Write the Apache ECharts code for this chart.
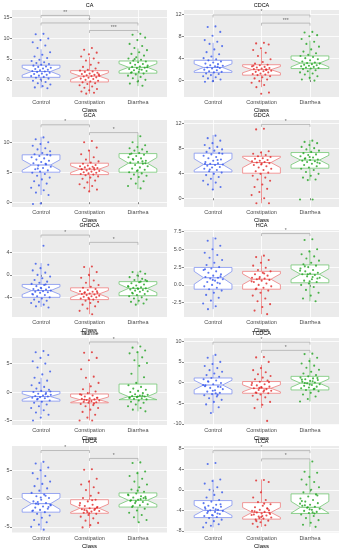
<!DOCTYPE html>
<html><head><meta charset="utf-8">
<script src="https://cdn.jsdelivr.net/npm/echarts@6/dist/echarts.min.js"></script>
<style>html,body{margin:0;padding:0;background:#fff}#c{width:343px;height:550px}</style>
</head><body><div id="c"></div>
<script>
const categories = ['Control', 'Constipation', 'Diarrhea'];
const panelTitles = ['CA', 'CDCA', 'GCA', 'GDCA', 'GHDCA', 'HCA', 'Taurine', 'TCDCA', 'TDCA', 'TLCA'];
const yMin = [-4.1, -3.1, -0.8, -1.4, -7.5, -4.5, -5.8, -10.3, -6.0, -8.3];
const yMax = [16.7, 12.8, 13.7, 12.5, 8.0, 7.7, 9.5, 10.8, 9.3, 8.5];
const yTicks = [[0,5,10,15],[0,4,8,12],[0,5,10],[0,4,8,12],[-4,0,4],[-2.5,0,2.5,5,7.5],[-5,0,5],[-10,-5,0,5,10],[-5,0,5],[-8,-4,0,4,8]];
const yDecimals = [0,0,0,0,0,1,0,0,0,0];

// box stats per group: [whisker low, Q1, notch low, median, notch high, Q3, whisker high]
const CA_box = [[-2,0.6,1.13,2.0,2.87,3.5,7.3],[-3.3,-0.5,0.1,0.9,1.7,2.2,5.5],[-1.5,1.6,2.13,3.0,3.87,4.5,7.5]];
const CDCA_box = [[-0.3,1.4,1.64,2.3,2.96,3.6,6.8],[-1.3,0.9,1.33,1.9,2.47,2.8,5.6],[-0.1,2.1,2.41,3.1,3.79,4.4,7.2]];
const GCA_box = [[1.2,5.0,5.33,6.2,7.07,7.9,10.9],[1.8,4.6,4.93,5.5,6.07,6.5,8.7],[2.2,5.0,5.57,6.5,7.43,8.1,11.2]];
const GDCA_box = [[1.3,4.2,4.5,5.4,6.3,7.2,10.1],[-0.8,4.0,4.89,5.7,6.51,6.7,7.5],[2.8,4.8,5.35,6.1,6.85,7.3,9.3]];
const GHDCA_box = [[-5.7,-4.0,-3.49,-2.8,-2.11,-1.7,2.1],[-7.0,-4.4,-4.03,-3.4,-2.77,-2.3,1.3],[-5.3,-3.7,-3.15,-2.4,-1.65,-1.2,0.6]];
const HCA_box = [[-3.4,-0.6,0.1,1.0,1.9,2.45,6.7],[-4.1,-0.6,0.05,0.8,1.55,1.9,4.1],[-2.3,0.3,0.75,1.5,2.25,2.8,4.8]];
const Taurine_box = [[-4.0,-1.6,-1.3,-0.8,-0.3,0.1,2.5],[-5.0,-1.9,-1.82,-1.35,-0.88,-0.35,1.6],[-3.4,-1.35,-1.35,-0.8,-0.1,1.4,7.2]];
const TCDCA_box = [[-7.4,-2.75,-1.75,-0.6,0.55,1.1,6.7],[-6.2,-2.6,-2.25,-1.4,-0.55,0.25,4.3],[-4.6,-1.8,-1.15,-0.15,0.85,1.5,6.0]];
const TDCA_box = [[-5.6,-2.4,-1.9,-0.9,0.1,0.9,6.4],[-5.2,-2.6,-2.42,-1.7,-0.98,-0.2,3.3],[-4.2,-1.5,-1.05,-0.3,0.45,1.0,4.8]];
const TLCA_box = [[-7.3,-5.4,-5.0,-4.0,-3.0,-2.1,2.0],[-7.2,-5.7,-5.36,-4.4,-3.44,-2.5,2.0],[-7.2,-4.6,-4.54,-3.4,-2.26,-0.8,5.5]];

// individual sample values per group (Control, Constipation, Diarrhea)
const CA_pts = [
 [11,10.9,9.9,9.5,9,8.2,7.6,6.6,6,5.6,5.2,4.8,4.5,4.2,4,3.8,3.6,3.4,3.2,3.1,2.9,2.7,2.6,2.4,2.3,2.1,2,1.9,1.7,1.5,1.4,1.2,1,0.9,0.7,0.5,0.3,0.1,-0.2,-0.5,-0.8,-1.1,-1.5,-1.8,-2],
 [7.6,7.2,6.5,6.1,5.6,5.1,4.6,4.1,3.6,3.1,2.7,2.4,2.2,2,1.9,1.7,1.5,1.4,1.2,1.1,1,0.9,0.8,0.6,0.5,0.3,0.2,0,-0.2,-0.4,-0.6,-0.8,-1,-1.3,-1.6,-1.9,-2.2,-2.5,-2.8,-3.1,-3.3,1.3],
 [11,10.8,10.1,9.5,8.6,8.1,7.6,7.1,6.6,6.2,5.8,5.4,5.1,4.8,4.6,4.4,4.2,4,3.8,3.6,3.4,3.2,3.1,2.9,2.8,2.6,2.4,2.3,2.1,1.9,1.7,1.5,1.3,1,0.7,0.4,0,-0.4,-0.9,-1.4,5,3,2.5,1.8]];
const CDCA_pts = [
 [9.8,9.7,8.8,8.1,7.3,7,6.6,6.2,5.6,5.1,4.7,4.3,4,3.8,3.6,3.4,3.2,3,2.9,2.7,2.6,2.5,2.3,2.2,2.1,1.9,1.8,1.6,1.5,1.4,1.2,1.1,0.9,0.7,0.5,0.3,0.1,-0.2,-0.3,2.4],
 [6.8,6.7,6.5,5.8,5.5,5,4.4,3.8,3.3,3,2.8,2.7,2.5,2.4,2.3,2.2,2.1,2,1.9,1.8,1.7,1.6,1.5,1.4,1.2,1.1,1,0.9,0.7,0.5,0.3,0.1,-0.2,-0.5,-0.9,-1.3,-2.3,-2.5,2.6,1.9],
 [8.8,8.7,8.2,8,7.5,7,6.6,6.1,5.6,5.2,4.9,4.6,4.4,4.2,4,3.8,3.6,3.4,3.2,3.1,3,2.9,2.8,2.7,2.6,2.5,2.4,2.3,2.2,2.1,2,1.8,1.6,1.4,1.2,1,0.7,0.4,0.1,-0.1]];
const GCA_pts = [
 [10.8,10.5,10,9.7,9.4,9,8.8,8.5,8.2,8,7.9,7.7,7.5,7.3,7.1,6.9,6.7,6.5,6.3,6.1,5.9,5.7,5.5,5.3,5.1,4.9,4.7,4.4,4.1,3.8,3.5,3.1,2.8,2.4,2,1.6,1.2,-0.2,-0.3,6.4,5.6,7.8],
 [10.2,10,9.1,8.6,8,7.5,7.1,6.8,6.6,6.4,6.2,6.1,6,5.9,5.8,5.7,5.6,5.5,5.4,5.3,5.2,5.1,5,4.9,4.8,4.7,4.6,4.5,4.3,4.1,3.9,3.6,3.3,3,2.7,2.4,2.1,1.8,5.5,5.7],
 [11,10,9.5,9.2,9,8.8,8.6,8.4,8.2,8.1,7.9,7.7,7.5,7.3,7.1,6.9,6.7,6.6,6.4,6.2,6,5.8,5.6,5.4,5.2,5,4.8,4.6,4.4,4.2,3.9,3.5,3.1,2.7,2.3,7.2,6.5,5.3,8,6.8]];
const GDCA_pts = [
 [10,9.6,9.2,8.8,8.5,8.2,8,7.8,7.6,7.4,7.2,7,6.8,6.6,6.4,6.2,6,5.8,5.6,5.5,5.4,5.3,5.2,5,4.9,4.7,4.5,4.3,4.1,3.9,3.7,3.4,3.1,2.8,2.5,2.2,1.8,1.4,5.5,6.1,4.6,7.1],
 [11.1,11,7.5,7.3,7.1,6.9,6.7,6.6,6.4,6.3,6.1,6,5.9,5.8,5.7,5.6,5.5,5.3,5.1,4.9,4.7,4.5,4.3,4.1,3.9,3.6,3.3,3,2.8,2.2,1.8,1.5,1,0.5,0,-0.8,-0.8,5.4],
 [9.2,9,8.8,8.5,8.2,8,7.8,7.6,7.4,7.2,7,6.9,6.7,6.5,6.4,6.2,6.1,6,5.9,5.8,5.6,5.5,5.3,5.1,4.9,4.7,4.5,4.2,3.9,3.6,3.3,3,2.9,-0.2,-0.2,6.3,5.7,6.6]];
const GHDCA_pts = [
 [5.2,2,1.8,1.2,0.8,0.4,0,-0.3,-0.6,-0.9,-1.2,-1.4,-1.6,-1.8,-2,-2.2,-2.4,-2.5,-2.6,-2.7,-2.8,-2.9,-3,-3.1,-3.2,-3.4,-3.6,-3.8,-4,-4.2,-4.4,-4.6,-4.8,-5,-5.3,-5.6,-5.8,-2.3,-3.5,-1.7],
 [1.5,1.4,0.5,0,-0.5,-1,-1.4,-1.8,-2.1,-2.3,-2.5,-2.7,-2.9,-3,-3.1,-3.2,-3.3,-3.4,-3.5,-3.6,-3.7,-3.8,-3.9,-4,-4.1,-4.2,-4.4,-4.6,-4.8,-5,-5.3,-5.6,-6,-6.4,-7,-3.2,-2.9,-4.3],
 [0.6,0.5,0.2,-0.1,-0.4,-0.7,-0.9,-1.1,-1.3,-1.5,-1.7,-1.9,-2.1,-2.2,-2.3,-2.4,-2.5,-2.6,-2.7,-2.8,-2.9,-3,-3.2,-3.4,-3.6,-3.8,-4,-4.2,-4.4,-4.6,-4.8,-5.1,-5.3,-2,-1.2,-3.3,-0.9,-2.4]];
const HCA_pts = [
 [6.5,6.2,5.5,5,4.5,4.2,3.8,3.5,3.1,2.8,2.5,2.3,2.1,1.9,1.7,1.5,1.3,1.1,1,0.9,0.8,0.6,0.4,0.2,0,-0.2,-0.4,-0.6,-0.8,-1.1,-1.4,-1.8,-2.2,-2.6,-3,-3.4,1.2,0.7,2.2,0.3],
 [4.1,3.9,3.5,3.1,2.7,2.4,2.1,1.9,1.7,1.5,1.3,1.1,1,0.9,0.8,0.7,0.6,0.4,0.2,0,-0.2,-0.4,-0.6,-0.8,-1.1,-1.5,-1.9,-2.3,-2.7,-3.1,-3.6,-4.1,0.9,0.5,1.6,-0.5],
 [6.4,6.3,5,4.7,4.3,4,3.7,3.4,3.1,2.9,2.7,2.5,2.3,2.1,1.9,1.7,1.6,1.5,1.4,1.2,1,0.8,0.6,0.4,0.2,0,-0.3,-0.7,-1.1,-1.5,-1.9,-2.3,1.5,2,1.1,2.6,0.9,0.5]];
const Taurine_pts = [
 [7.2,7,6.5,6,5.4,5,4.3,3.6,3.1,2.5,2,1.6,1.2,0.9,0.6,0.4,0.2,0,-0.2,-0.3,-0.5,-0.6,-0.7,-0.8,-0.9,-1,-1.1,-1.3,-1.5,-1.7,-1.9,-2.2,-2.5,-2.8,-3.2,-3.6,-4,-4.5,-5,-0.4,-1.2,0.1],
 [7,6.9,6,5.6,4,2.7,2.5,1.6,1,0.5,0.1,-0.2,-0.4,-0.6,-0.8,-1,-1.1,-1.2,-1.3,-1.4,-1.5,-1.6,-1.7,-1.8,-1.9,-2.1,-2.3,-2.5,-2.8,-3.1,-3.5,-4,-4.5,-5,-5,-1.35,-1,-1.6,-0.5,-2],
 [8,7.8,7.3,7,6.8,6.1,5.6,5.1,4.6,3.2,2.6,1.6,1.2,0.9,0.6,0.4,0.2,0,-0.2,-0.4,-0.5,-0.6,-0.7,-0.8,-0.9,-1,-1.1,-1.2,-1.3,-1.5,-1.7,-1.9,-2.2,-2.5,-2.8,-3.1,-3.4,-0.8,-1,-0.6]];
const TCDCA_pts = [
 [6.7,6,5,4.5,4,3.5,3,2.6,2.2,1.8,1.4,1.1,0.8,0.5,0.2,-0.1,-0.4,-0.7,-1,-1.3,-1.6,-1.9,-2.2,-2.5,-2.8,-3.1,-3.4,-3.8,-4.2,-4.7,-5.3,-6,-7.4,-0.6,-2.6,0.3,-1.1,-2,-0.9,-3],
 [6.2,6.1,5,3.5,3,2.5,2,1.6,1.2,0.8,0.5,0.2,-0.1,-0.4,-0.7,-1,-1.2,-1.4,-1.6,-1.8,-2,-2.2,-2.4,-2.6,-2.9,-3.2,-3.6,-4.1,-4.7,-5.4,-6.2,-9.3,-1.3,-0.6,-1.9,-2.5,0.1,-1.1],
 [7,6.9,6,5.2,4.6,4.1,3.6,3.1,2.6,2.2,1.8,1.5,1.2,1,0.8,0.6,0.4,0.2,0,-0.2,-0.4,-0.6,-0.8,-1,-1.2,-1.4,-1.6,-1.8,-2.1,-2.5,-2.9,-3.4,-4,-4.6,0.3,-0.1,1.1,-0.5,0.7,-1.5]];
const TDCA_pts = [
 [6.5,6.2,5.5,5,4.5,4,3.5,3,2.6,2.2,1.8,1.4,1,0.7,0.4,0.1,-0.2,-0.5,-0.8,-1,-1.2,-1.4,-1.6,-1.8,-2,-2.2,-2.4,-2.7,-3,-3.4,-3.8,-4.2,-4.6,-5,-5.5,-0.9,-1.5,0.2,-2.1,0.5,-0.6,-1.1],
 [5.2,5.1,3.5,3,2.5,2,1.5,1,0.5,0.1,-0.2,-0.5,-0.8,-1.1,-1.3,-1.5,-1.7,-1.9,-2,-2.1,-2.2,-2.3,-2.5,-2.7,-2.9,-3.2,-3.5,-3.9,-4.3,-4.7,-5.1,-1.8,-2.4,-1.2,-0.3,-2,-1.6,-2.6],
 [6.4,6.3,4.8,4.5,4,3.5,3,2.5,2,1.6,1.2,0.9,0.6,0.4,0.2,0,-0.2,-0.4,-0.6,-0.8,-1,-1.2,-1.5,-1.8,-2.1,-2.5,-2.9,-3.3,-3.8,-4.2,-0.3,0.1,-0.5,0.7,-0.1,-1.3,0.3,1.4]];
const TLCA_pts = [
 [5.2,5,2,1.7,1.2,0.5,0,-0.5,-1,-1.5,-2,-2.3,-2.6,-2.9,-3.1,-3.3,-3.5,-3.7,-3.9,-4,-4.1,-4.3,-4.5,-4.7,-4.9,-5.1,-5.3,-5.5,-5.8,-6.1,-6.4,-6.7,-7,-7.3,-3.8,-4.2,-2.8,-5,-3.4,-4.6],
 [1.9,1.8,1.5,-0.5,-1.5,-2,-2.4,-2.8,-3.1,-3.4,-3.7,-3.9,-4.1,-4.3,-4.4,-4.5,-4.6,-4.8,-5,-5.2,-5.4,-5.6,-5.8,-6,-6.3,-6.6,-6.9,-7.2,-4.7,-5.1,-4.2,-3.6,-5.5,-4.9,-2.7,-6.1,-4,-5.3],
 [5.5,3.5,3.3,2.5,2,1.5,1,0.5,0,-0.5,-0.9,-1.3,-1.7,-2,-2.3,-2.6,-2.9,-3.1,-3.3,-3.5,-3.7,-3.9,-4.1,-4.3,-4.5,-4.8,-5.1,-5.5,-5.9,-6.4,-6.8,-7.2,-3.4,-2.7,-4.4,-3,-1.1,-3.8,-2.2,-4.6]];

// significance brackets: [group a, group b, y value]
const CA_sig = [[1,2,15.4],[1,3,13.6],[2,3,11.8]];
const CA_sigLabel = ['**','*','***'];
const CDCA_sig = [[1,3,11.9],[2,3,10.4]];
const CDCA_sigLabel = ['*','***'];
const GCA_sig = [[1,2,12.9],[2,3,11.6]];
const GCA_sigLabel = ['*','*'];
const GDCA_sig = [[2,3,11.8]];
const GDCA_sigLabel = ['*'];
const GHDCA_sig = [[1,2,7.1],[2,3,5.8]];
const GHDCA_sigLabel = ['*','*'];
const HCA_sig = [[2,3,7.2]];
const HCA_sigLabel = ['*'];
const Taurine_sig = [[2,3,8.8]];
const Taurine_sigLabel = ['*'];
const TCDCA_sig = [[1,3,9.8],[2,3,7.8]];
const TCDCA_sigLabel = ['*','*'];
const TDCA_sig = [[1,2,8.5],[2,3,7.1]];
const TDCA_sigLabel = ['*','*'];
const TLCA_sig = [[1,3,7.6],[2,3,6.0]];
const TLCA_sigLabel = ['*','*'];

const panelBoxes = [CA_box, CDCA_box, GCA_box, GDCA_box, GHDCA_box, HCA_box, Taurine_box, TCDCA_box, TDCA_box, TLCA_box];
const panelPts = [CA_pts, CDCA_pts, GCA_pts, GDCA_pts, GHDCA_pts, HCA_pts, Taurine_pts, TCDCA_pts, TDCA_pts, TLCA_pts];
const panelSig = [CA_sig, CDCA_sig, GCA_sig, GDCA_sig, GHDCA_sig, HCA_sig, Taurine_sig, TCDCA_sig, TDCA_sig, TLCA_sig];
const panelSigLabel = [CA_sigLabel, CDCA_sigLabel, GCA_sigLabel, GDCA_sigLabel, GHDCA_sigLabel, HCA_sigLabel, Taurine_sigLabel, TCDCA_sigLabel, TDCA_sigLabel, TLCA_sigLabel];

// ---------- styling / layout ----------
const FONT = 'Liberation Sans, Arial, sans-serif';
const POINT_COLORS = ['#3556ec', '#e02626', '#1fa31f'];
const BOX_COLORS = ['#8193f0', '#ef7f7f', '#72c672'];
const colLeft = [12, 184];
const gridW = 155;
const rowTop = [10, 120, 230, 338, 446];
const gridH = 87;
const BOX_HALF = 0.39, NOTCH_HALF = 0.195, JITTER = 0.42;

function jitterOffset(i) { return (((i + 1) * 0.6180339887) % 1 - 0.5) * JITTER; }

const grids = [], xAxes = [], yAxes = [], series = [], graphics = [];
for (let p = 0; p < 10; p++) {
  const col = p % 2, row = Math.floor(p / 2);
  const left = colLeft[col], top = rowTop[row];
  grids.push({left: left, top: top, width: gridW, height: gridH, show: true, backgroundColor: '#ebebeb', borderWidth: 0});
  xAxes.push({
    type: 'value', gridIndex: p, min: 0.4, max: 3.6,
    axisLine: {show: false},
    axisTick: {show: true, length: 2, lineStyle: {color: '#333', width: 0.6}, customValues: [1, 2, 3]},
    axisLabel: {customValues: [1, 2, 3], formatter: v => categories[Math.round(v) - 1] || '', fontSize: 5.5, color: '#4d4d4d', margin: 2.5, fontFamily: FONT},
    splitLine: {show: true, lineStyle: {color: '#ffffff', width: 0.8}},
    name: 'Class', nameLocation: 'middle', nameGap: 10.5,
    nameTextStyle: {fontSize: 6, color: '#000', fontFamily: FONT}
  });
  const dec = yDecimals[p];
  yAxes.push({
    type: 'value', gridIndex: p, min: yMin[p], max: yMax[p],
    axisLine: {show: false},
    axisTick: {show: true, length: 2, lineStyle: {color: '#333', width: 0.6}, customValues: yTicks[p]},
    axisLabel: {customValues: yTicks[p], formatter: v => dec ? v.toFixed(1) : String(v), fontSize: 5.5, color: '#4d4d4d', margin: 2.5, fontFamily: FONT},
    splitLine: {show: true, lineStyle: {color: '#ffffff', width: 0.8}}
  });
  graphics.push({type: 'text', x: left + gridW / 2, y: top - 4.5, silent: true,
    style: {text: panelTitles[p], fontSize: 5.5, fontFamily: FONT, fill: '#000', align: 'center', verticalAlign: 'middle', textAlign: 'center', textVerticalAlign: 'middle'}});

  // boxes
  const boxData = panelBoxes[p].map((b, g) => [g + 1].concat(b));
  series.push({
    type: 'custom', xAxisIndex: p, yAxisIndex: p, silent: true, z: 2,
    encode: {x: 0, y: 4},
    data: boxData,
    renderItem: function (params, api) {
      const x = api.value(0);
      const wl = api.value(1), q1 = api.value(2), nl = api.value(3), md = api.value(4), nh = api.value(5), q3 = api.value(6), wh = api.value(7);
      const P = (xx, yy) => api.coord([xx, yy]);
      const c = BOX_COLORS[x - 1];
      const pts = [P(x - BOX_HALF, q3), P(x - BOX_HALF, nh), P(x - NOTCH_HALF, md), P(x - BOX_HALF, nl), P(x - BOX_HALF, q1),
                   P(x + BOX_HALF, q1), P(x + BOX_HALF, nl), P(x + NOTCH_HALF, md), P(x + BOX_HALF, nh), P(x + BOX_HALF, q3)];
      const a = P(x, q3), b = P(x, wh), d = P(x, q1), e = P(x, wl), m1 = P(x - NOTCH_HALF, md), m2 = P(x + NOTCH_HALF, md);
      return {type: 'group', children: [
        {type: 'line', shape: {x1: a[0], y1: a[1], x2: b[0], y2: b[1]}, style: {stroke: c, lineWidth: 0.8}},
        {type: 'line', shape: {x1: d[0], y1: d[1], x2: e[0], y2: e[1]}, style: {stroke: c, lineWidth: 0.8}},
        {type: 'polygon', shape: {points: pts}, style: {fill: '#ffffff', stroke: c, lineWidth: 0.8}},
        {type: 'line', shape: {x1: m1[0], y1: m1[1], x2: m2[0], y2: m2[1]}, style: {stroke: c, lineWidth: 1}}
      ]};
    }
  });
  // jittered points
  panelPts[p].forEach((vals, g) => {
    series.push({
      type: 'scatter', xAxisIndex: p, yAxisIndex: p, silent: true, z: 3,
      symbol: 'circle', symbolSize: 2.1,
      itemStyle: {color: POINT_COLORS[g]},
      data: vals.map((v, i) => [g + 1 + jitterOffset(i), v])
    });
  });
  // significance brackets
  const labels = panelSigLabel[p];
  series.push({
    type: 'custom', xAxisIndex: p, yAxisIndex: p, silent: true, z: 4,
    encode: {x: 0, y: 2},
    data: panelSig[p],
    renderItem: function (params, api) {
      const a = api.coord([api.value(0), api.value(2)]);
      const b = api.coord([api.value(1), api.value(2)]);
      const tip = 2.5;
      return {type: 'group', children: [
        {type: 'polyline', shape: {points: [[a[0], a[1] + tip], a, b, [b[0], b[1] + tip]]}, style: {stroke: '#a6a6a6', lineWidth: 0.7, fill: null}},
        {type: 'text', style: {text: labels[params.dataIndex], x: (a[0] + b[0]) / 2, y: a[1] - 0.3, fontSize: 5, fontFamily: FONT, fill: '#666',
          align: 'center', verticalAlign: 'bottom', textAlign: 'center', textVerticalAlign: 'bottom'}}
      ]};
    }
  });
}

const chart = echarts.init(document.getElementById('c'), null, {renderer: 'canvas'});
chart.setOption({
  animation: false,
  backgroundColor: '#ffffff',
  textStyle: {fontFamily: FONT},
  grid: grids, xAxis: xAxes, yAxis: yAxes, series: series,
  graphic: {elements: graphics}
});
</script></body></html>
